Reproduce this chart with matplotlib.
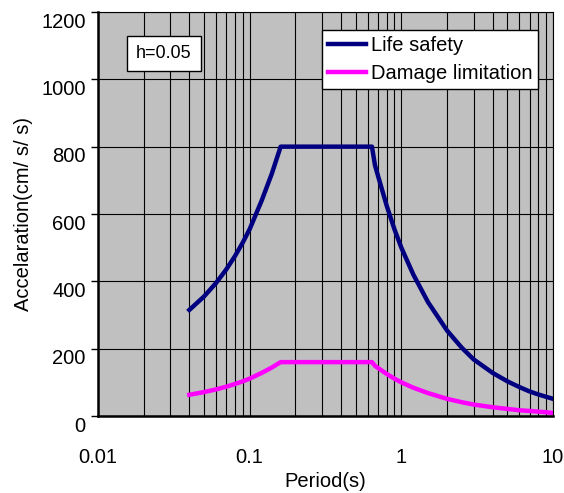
import matplotlib
matplotlib.use("Agg")
import matplotlib.pyplot as plt
import matplotlib.transforms as mtransforms
from matplotlib.ticker import LogLocator, FixedLocator, NullFormatter

plt.rcParams['font.family'] = ['Liberation Sans', 'DejaVu Sans']

# values
period = [0.04, 0.05, 0.06, 0.07, 0.08, 0.09, 0.10, 0.12, 0.14, 0.16,
          0.64, 0.67, 0.70, 0.80, 0.90, 1.0, 1.2, 1.5, 2.0, 2.5, 3.0,
          4.0, 5.0, 6.0, 7.0, 8.0, 9.0, 10.0]
life_safety = [315, 355, 395, 435, 475, 515, 555, 640, 720, 800,
               800, 745, 715, 625, 555, 500, 420, 338, 254, 203, 168,
               128, 103, 86, 73, 64, 57, 51]
damage_limitation = [63, 71, 79, 87, 95, 103, 111, 128, 144, 160,
                     160, 149, 143, 125, 111, 100, 84, 68, 51, 41, 34,
                     26, 21, 17, 15, 13, 11, 9]

fig = plt.figure(figsize=(5.64, 4.93), dpi=100)
ax = fig.add_axes([0.1738, 0.1562, 0.8067, 0.8195])
ax.set_facecolor('#C0C0C0')

ax.plot(period, life_safety, color='#000080', lw=3.2, label='Life safety')
ax.plot(period, damage_limitation, color='#FF00FF', lw=3.2, label='Damage limitation')

ax.set_xscale('log')
ax.set_xlim(0.01, 10)
ax.set_ylim(0, 1200)
ax.set_yticks(range(0, 1201, 200))
ax.xaxis.set_major_locator(FixedLocator([0.01, 0.1, 1, 10]))
ax.set_xticklabels(['0.01', '0.1', '1', '10'])
ax.xaxis.set_minor_locator(LogLocator(base=10, subs=range(2, 10)))
ax.xaxis.set_minor_formatter(NullFormatter())

ax.grid(True, which='both', axis='x', color='black', lw=0.8)
ax.grid(True, which='major', axis='y', color='black', lw=0.8)
ax.set_axisbelow(True)

ax.tick_params(axis='x', which='both', length=0, labelsize=14.5, pad=23)
ax.tick_params(axis='y', length=5, width=1, labelsize=14.5, pad=4)

# y tick labels sit a little below their gridline in the reference
offset = mtransforms.ScaledTranslation(0, -6 / 72, fig.dpi_scale_trans)
for lab in ax.get_yticklabels():
    lab.set_transform(lab.get_transform() + offset)

for side in ['left', 'bottom']:
    ax.spines[side].set_linewidth(1.8)
for side in ['top', 'right']:
    ax.spines[side].set_linewidth(0.8)

ax.set_xlabel('Period(s)', fontsize=14.5, labelpad=4)
ax.set_ylabel('Accelaration(cm/ s/ s)', fontsize=14.5, labelpad=6)

leg = ax.legend(loc='upper right', bbox_to_anchor=(0.968, 0.955), fontsize=14.5,
                frameon=True, fancybox=False, edgecolor='black', framealpha=1,
                handlelength=1.9, borderpad=0.3, labelspacing=0.45,
                handletextpad=0.25, borderaxespad=0)
leg.get_frame().set_linewidth(1)

ax.text(0.145, 0.898, 'h=0.05', transform=ax.transAxes, fontsize=13,
        ha='center', va='center',
        bbox=dict(facecolor='white', edgecolor='black', boxstyle='square,pad=0.5'))

fig.savefig('out.png', dpi=100)
